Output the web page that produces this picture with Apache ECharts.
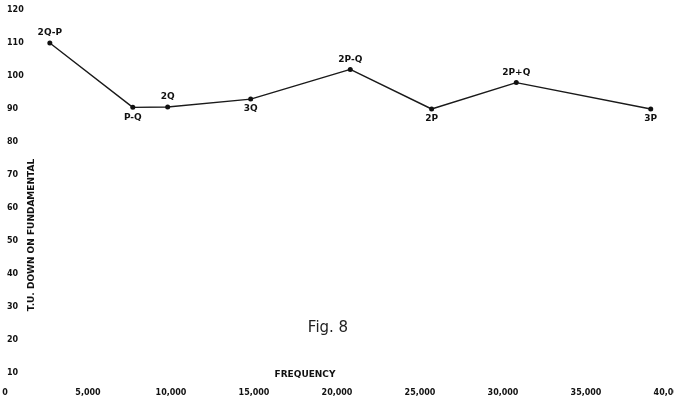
<!DOCTYPE html>
<html>
<head>
<meta charset="utf-8">
<script src="https://cdn.jsdelivr.net/npm/echarts@6/dist/echarts.min.js"></script>
<style>
  html, body { margin: 0; padding: 0; background: #fff; }
  #chart { width: 674px; height: 403px; }
</style>
</head>
<body>
<div id="chart"></div>
<script>
// data
const frequency = [2700, 7700, 9800, 14800, 20800, 25700, 30800, 38900];
const tuDown = [110, 90.5, 90.6, 93, 102, 90, 98, 90];
const pointNames = ["2Q-P", "P-Q", "2Q", "3Q", "2P-Q", "2P", "2P+Q", "3P"];
const labelSide = ["top", "bottom", "top", "bottom", "top", "bottom", "top", "bottom"];
const xTicks = [0, 5000, 10000, 15000, 20000, 25000, 30000, 35000, 40000];
const xTickText = ["0", "5,000", "10,000", "15,000", "20,000", "25,000", "30,000", "35,000", "40,000"];
const yTicks = [0, 10, 20, 30, 40, 50, 60, 70, 80, 90, 100, 110, 120];

const font = "DejaVu Sans";

const seriesData = frequency.map((f, i) => ({
  value: [f, tuDown[i]],
  name: pointNames[i],
  label: { position: labelSide[i] }
}));

const chart = echarts.init(document.getElementById("chart"));
chart.setOption({
  backgroundColor: "#fff",
  animation: false,
  grid: { left: 5, right: 5, top: 10, bottom: -3, containLabel: false, outerBoundsMode: "none" },
  xAxis: {
    type: "value",
    min: xTicks[0],
    max: xTicks[xTicks.length - 1],
    interval: 5000,
    axisLine: { show: false },
    axisTick: { show: false },
    splitLine: { show: false },
    axisLabel: {
      inside: true,
      margin: 9,
      color: "#111",
      fontFamily: font,
      fontWeight: "bold",
      fontSize: 8,
      formatter: v => xTickText[xTicks.indexOf(v)] || ""
    }
  },
  yAxis: {
    type: "value",
    min: yTicks[0],
    max: yTicks[yTicks.length - 1],
    interval: 10,
    axisLine: { show: false },
    axisTick: { show: false },
    splitLine: { show: false },
    axisLabel: {
      inside: true,
      margin: 2,
      showMinLabel: false,
      color: "#111",
      fontFamily: font,
      fontWeight: "bold",
      fontSize: 8
    }
  },
  graphic: [
    {
      type: "text",
      x: 32, y: 235,
      rotation: Math.PI / 2,
      style: {
        text: "T.U. DOWN ON FUNDAMENTAL",
        fill: "#111",
        font: "bold 9px " + font,
        align: "center",
        verticalAlign: "middle"
      }
    },
    {
      type: "text",
      x: 305, y: 375,
      style: {
        text: "FREQUENCY",
        fill: "#111",
        font: "bold 9px " + font,
        align: "center",
        verticalAlign: "middle"
      }
    },
    {
      type: "text",
      x: 328, y: 328,
      style: {
        text: "Fig. 8",
        fill: "#222",
        font: "15px " + font,
        align: "center",
        verticalAlign: "middle"
      }
    }
  ],
  series: [
    {
      type: "line",
      data: seriesData,
      symbol: "circle",
      symbolSize: 5,
      itemStyle: { color: "#111" },
      lineStyle: { color: "#1a1a1a", width: 1.4 },
      label: {
        show: true,
        formatter: p => p.name,
        distance: 3,
        color: "#111",
        fontFamily: font,
        fontWeight: "bold",
        fontSize: 9
      }
    }
  ]
});
</script>
</body>
</html>
